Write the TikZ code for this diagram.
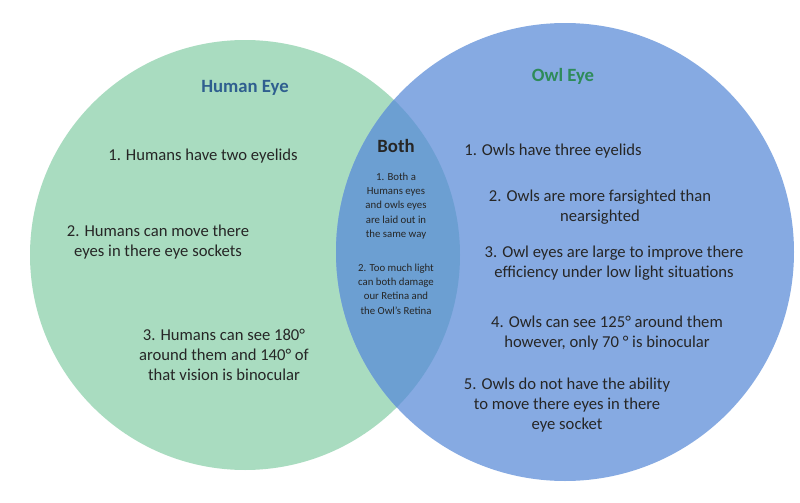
\documentclass[tikz,border=0pt]{standalone}
\usepackage{fontspec}
\setmainfont{Carlito}
\definecolor{humangreen}{HTML}{A9DCC0}
\definecolor{owlblue}{HTML}{86AAE2}
\definecolor{bothblue}{HTML}{6C9FD2}
\definecolor{humantitle}{HTML}{2F5F8F}
\definecolor{owltitle}{HTML}{2E8B5A}
\begin{document}
\begin{tikzpicture}[
		x=0.03cm,y=-0.03cm,
		fact/.style={
			align=center,
			font=\fontsize{14.2}{17}\selectfont,
			text=black!85
		},
		smallfact/.style={
			align=center,
			font=\fontsize{9.2}{12.2}\selectfont,
			text=black!85
		},
		heading/.style={
			font=\fontsize{16}{18}\selectfont\bfseries
		}
		]
		\useasboundingbox (0,0) rectangle (800,503);
		\fill[white] (0,0) rectangle (800,503);
		\fill[humangreen] (245,255) circle (215);
		\fill[owlblue] (565,252) circle (229);
		\begin{scope}
			\clip (245,255) circle (215);
			\fill[bothblue] (565,252) circle (229);
		\end{scope}
		% titles
		\node[heading,text=humantitle] (human) at (245,88) {Human Eye};
		\node[heading,text=owltitle] (owl) at (563,76) {Owl Eye};
		\node[heading,text=black!85] (both) at (396,146) {Both};
		% human facts
		\node[fact] (h1) at (203,156) {1. Humans have two eyelids};
		\node[fact] (h2) at (158,242) {2. Humans can move there\\eyes in there eye sockets};
		\node[fact] (h3) at (224,355) {3. Humans can see 180°\\around them and 140° of\\that vision is binocular};
		% both facts
		\node[smallfact] (b1) at (396,206) {1. Both a\\Humans eyes\\and owls eyes\\are laid out in\\the same way};
		\node[smallfact] (b2) at (396,289) {2. Too much light\\can both damage\\our Retina and\\the Owl's Retina};
		% owl facts
		\node[fact] (o1) at (553,151) {1. Owls have three eyelids};
		\node[fact] (o2) at (600,207) {2. Owls are more farsighted than\\nearsighted};
		\node[fact] (o3) at (614,263) {3. Owl eyes are large to improve there\\efficiency under low light situations};
		\node[fact] (o4) at (607,333) {4. Owls can see 125° around them\\however, only 70 ° is binocular};
		\node[fact] (o5) at (567,405) {5. Owls do not have the ability\\to move there eyes in there\\eye socket};
		\end{tikzpicture}
\end{document}
